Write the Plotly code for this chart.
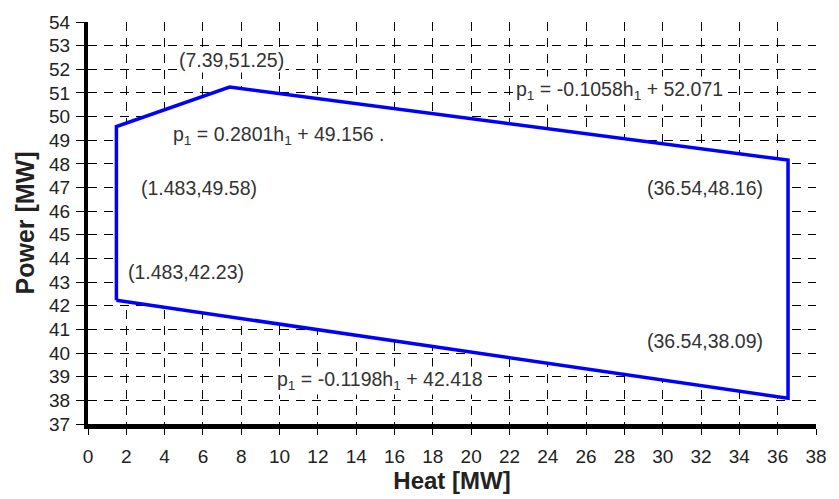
import plotly.graph_objects as go

# Data
heat = [1.483, 1.483, 7.39, 36.54, 36.54, 1.483]
power = [42.23, 49.58, 51.25, 48.16, 38.09, 42.23]

label_texts = ["(7.39,51.25)", "p<sub>1</sub> = -0.1058h<sub>1</sub> + 52.071",
               "p<sub>1</sub> = 0.2801h<sub>1</sub> + 49.156 .", "(1.483,49.58)",
               "(36.54,48.16)", "(1.483,42.23)", "(36.54,38.09)",
               "p<sub>1</sub> = -0.1198h<sub>1</sub> + 42.418"]
label_x = [7.47, 27.75, 9.94, 5.77, 32.18, 5.1, 32.18, 15.24]
label_y = [52.38, 51.09, 49.22, 46.98, 46.98, 43.44, 40.53, 38.83]

x_ticks = list(range(0, 39, 2))
y_ticks = list(range(37, 55))

fig = go.Figure()
fig.add_trace(go.Scatter(x=heat, y=power, mode="lines", fill="toself",
                         fillcolor="white", line=dict(color="#0000ff", width=3.5),
                         showlegend=False, hoverinfo="skip"))

for t, x, y in zip(label_texts, label_x, label_y):
    fig.add_annotation(x=x, y=y, text=t, showarrow=False, bgcolor="white",
                       font=dict(family="Liberation Sans", size=19.5, color="#333"),
                       borderpad=1)

axis_common = dict(showgrid=True, gridcolor="black", gridwidth=1, griddash="9px,7px",
                   zeroline=False, showline=True, linecolor="black",
                   ticks="outside", tickcolor="black", tickwidth=1,
                   tickfont=dict(family="Liberation Sans", size=19, color="#222"))

fig.update_xaxes(range=[0, 38], tickvals=x_ticks, linewidth=5, ticklen=6,
                 title=dict(text="<b>Heat [MW]</b>", font=dict(family="Liberation Sans", size=24, color="#222"), standoff=3),
                 ticklabelstandoff=5, **axis_common)
fig.update_yaxes(range=[37, 54], tickvals=y_ticks, linewidth=4, ticklen=8,
                 title=dict(text="<b>Power [MW]</b>", font=dict(family="Liberation Sans", size=25, color="#222"), standoff=8),
                 ticklabelstandoff=2, **axis_common)

fig.update_layout(width=839, height=499, margin=dict(l=88, r=13, t=18, b=72),
                  paper_bgcolor="white", plot_bgcolor="white")

fig.write_html("out.html")
